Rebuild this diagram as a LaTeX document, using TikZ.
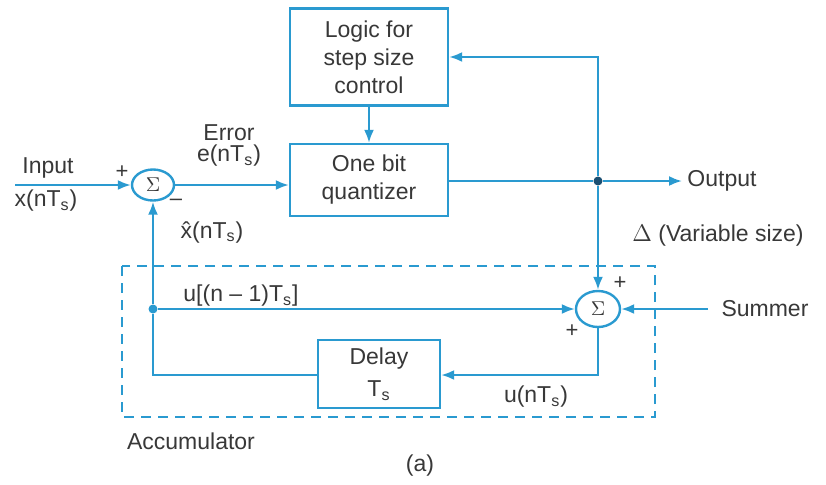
\documentclass[tikz,border=0pt]{standalone}
\usepackage{fontspec}
\setmainfont{Liberation Sans}
\usepackage{tikz}
\usetikzlibrary{arrows.meta,positioning,calc,shapes.geometric}
\definecolor{cLine}{HTML}{2A9AD0}
\definecolor{cText}{HTML}{383838}
\definecolor{cDot}{HTML}{1B4F72}
\tikzset{
  blk/.style={draw=cLine, line width=1.2pt, fill=white, align=center,
              text=cText, inner sep=2pt},
  sumnode/.style={draw=cLine, line width=1.2pt, ellipse, fill=white,
                  minimum width=21pt, minimum height=15.5pt, inner sep=0pt,
                  text=cText, font=\fontsize{10}{10}\selectfont},
  arr/.style={-{Latex[length=6.5pt,width=5pt]}, line width=1.1pt, cLine},
  wire/.style={line width=1.1pt, cLine},
  lbl/.style={text=cText, inner sep=1pt, align=center},
  sgn/.style={text=cText, inner sep=0pt, font=\fontsize{11}{11}\selectfont},
  jdot/.style={circle, fill=#1, inner sep=0pt, minimum size=4.5pt}
}
\begin{document}
\begin{tikzpicture}[x=0.5pt, y=-0.5pt, font=\fontsize{11.5}{14}\selectfont]
\useasboundingbox (0,0) rectangle (826,484);
% accumulator frame
\draw[cLine, line width=0.9pt, dash pattern=on 5pt off 3.5pt] (122,266) rectangle (655,417);
% blocks
\node[blk, minimum width=79pt, minimum height=48.5pt] (logic) at (369,57) {Logic for\\step size\\control};
\node[blk, minimum width=79pt, minimum height=36pt] (quant) at (369,180) {One bit\\quantizer};
\node[blk, minimum width=61pt, minimum height=34pt] (delay) at (379,374) {Delay\\[2pt]T\textsubscript{s}};
\node[sumnode] (sumA) at (153,185) {$\Sigma$};
\node[sumnode, minimum width=22pt, minimum height=18pt] (sumB) at (598,309) {$\Sigma$};
% junctions and free ends
\node[jdot=cDot] (jOut) at (598,181) {};
\node[jdot=cLine] (jAcc) at (153,309) {};
\coordinate (inp) at (15,185);
\coordinate (outp) at (682,181);
\coordinate (summ) at (708,309);
\coordinate (cTop) at (598,57);
\coordinate (cBR) at (598,375);
\coordinate (cBL) at (153,375);
% connectors
\draw[arr] (inp) -- (sumA);
\draw[arr] (sumA) -- (quant.west |- sumA);
\draw[wire] (quant.east |- jOut) -- (jOut);
\draw[arr] (jOut) -- (outp);
\draw[arr] (jOut) -- (cTop) -- (logic.east |- cTop);
\draw[arr] (logic) -- (quant);
\draw[arr] (jOut) -- (sumB);
\draw[arr] (summ) -- (sumB);
\draw[arr] (jAcc) -- (sumB);
\draw[arr] (sumB) -- (cBR) -- (delay.east |- cBR);
\draw[arr] (delay.west |- cBL) -- (cBL) -- (jAcc) -- (sumA);
% labels
\node[lbl] (tIn) at (48,168) {Input};
\node[lbl] (tX) at (46,201) {x(nT\textsubscript{s})};
\node[lbl] (tErr) at (229,133) {Error};
\node[lbl] (tE) at (229,156) {e(nT\textsubscript{s})};
\node[lbl] (tXh) at (212,232) {\^{x}(nT\textsubscript{s})};
\node[lbl] (tOut) at (722,181) {Output};
\node[lbl] (tVar) at (718,236) {$\Delta$ (Variable size)};
\node[lbl] (tSum) at (765,309) {Summer};
\node[lbl] (tU1) at (241,296) {u[(n -- 1)T\textsubscript{s}]};
\node[lbl] (tU) at (536,397) {u(nT\textsubscript{s})};
\node[lbl] (tAcc) at (191,441) {Accumulator};
\node[lbl] (tA) at (420,466) {(a)};
% signs
\node[sgn] (pA) at (122,172) {+};
\node[sgn] (mA) at (176,202) {--};
\node[sgn] (pB) at (620,283) {+};
\node[sgn] (pB2) at (572,331) {+};
\end{tikzpicture}
\end{document}
